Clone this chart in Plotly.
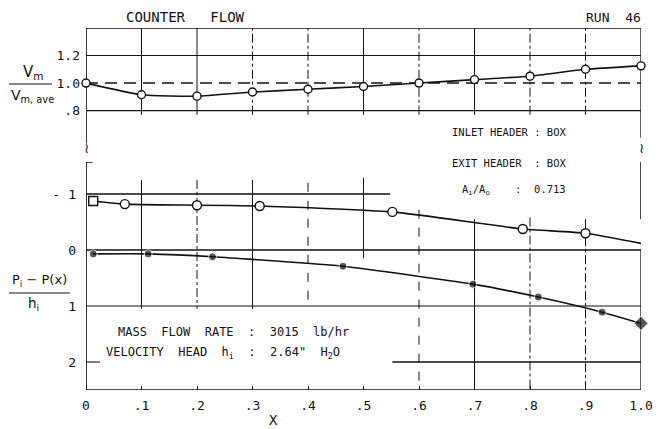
import plotly.graph_objects as go

# ---------------- data ----------------
x_vel = [0.0, 0.1, 0.2, 0.3, 0.4, 0.5, 0.6, 0.7, 0.8, 0.9, 1.0]
v_ratio = [1.00, 0.915, 0.905, 0.935, 0.955, 0.975, 1.00, 1.025, 1.05, 1.10, 1.125]

x_open = [0.013, 0.07, 0.20, 0.313, 0.552, 0.787, 0.90, 1.02]
p_open = [-0.875, -0.82, -0.80, -0.785, -0.68, -0.375, -0.30, -0.08]

x_filled = [0.013, 0.112, 0.228, 0.463, 0.697, 0.815, 0.93, 1.0]
p_filled = [0.07, 0.07, 0.12, 0.29, 0.61, 0.84, 1.11, 1.31]

x_ticks = [0.0, 0.1, 0.2, 0.3, 0.4, 0.5, 0.6, 0.7, 0.8, 0.9, 1.0]
x_ticktext = ["0", ".1", ".2", ".3", ".4", ".5", ".6", ".7", ".8", ".9", "1.0"]
v_ticks = [0.8, 1.0, 1.2]
v_ticktext = [".8", "1.0", "1.2"]
p_ticks = [-1, 0, 1, 2]
p_ticktext = ["- 1", "0", "1", "2"]

# ---------------- geometry helpers (layout only) ----------------
OFF = 8                      # page body margin of the browser
W, H = 666 - OFF, 429 - OFF  # figure size so that it fits the window
L, R, T, B = 86, 641, 28, 390  # plot area in page pixels


def px(xp):
    return (xp - L) / (R - L)


def py(yp):
    return (B - yp) / (B - T)


INK = "#111111"
FONT = "DejaVu Sans Mono"

fig = go.Figure()

fig.add_trace(go.Scatter(
    x=x_vel, y=v_ratio, yaxis="y2", mode="lines+markers",
    line=dict(color=INK, width=1.6, shape="spline", smoothing=0.5),
    marker=dict(symbol="circle", size=8, color="white", line=dict(color=INK, width=1.4)),
    cliponaxis=False, showlegend=False))

fig.add_trace(go.Scatter(
    x=x_open, y=p_open, yaxis="y", mode="lines+markers",
    line=dict(color=INK, width=1.6, shape="spline", smoothing=0.5),
    marker=dict(symbol=["square"] + ["circle"] * (len(x_open) - 1), size=9,
                color="white", line=dict(color=INK, width=1.4)),
    cliponaxis=False, showlegend=False))

fig.add_trace(go.Scatter(
    x=x_filled, y=p_filled, yaxis="y", mode="lines+markers",
    line=dict(color=INK, width=1.6, shape="spline", smoothing=0.5),
    marker=dict(symbol=["circle"] * (len(x_filled) - 1) + ["diamond"],
                size=[8] * (len(x_filled) - 1) + [11], color=INK),
    cliponaxis=False, showlegend=False))

shapes = []


def hline(y, x0, x1, yref, width=1.0, dash="solid"):
    shapes.append(dict(type="line", xref="x", yref=yref, x0=x0, x1=x1, y0=y, y1=y,
                       line=dict(color=INK, width=width, dash=dash), layer="below"))


def vline(x, y0, y1, yref, width=1.0, dash="solid"):
    shapes.append(dict(type="line", xref="x", yref=yref, x0=x, x1=x, y0=y0, y1=y1,
                       line=dict(color=INK, width=width, dash=dash), layer="below"))


# top panel frame / grid
hline(1.4, 0, 1, "y2", 1.7)
hline(1.2, 0, 1, "y2", 1.1)
hline(1.0, 0, 1, "y2", 1.4, "12px,7px")
hline(0.8, 0, 1, "y2", 1.4)
vline(0, 0.56, 1.4, "y2", 1.7)
vline(1, 0.6, 1.4, "y2", 1.3)
top_styles = {0.1: "solid", 0.2: "solid", 0.3: "dashdot", 0.4: "dashdot", 0.5: "solid",
              0.6: "dashdot", 0.7: "solid", 0.8: "dashdot", 0.9: "dashdot"}
for xv, st in top_styles.items():
    vline(xv, 0.77, 1.4, "y2", 1.0, st)

# bottom panel frame / grid
vline(0, -1.571, 2.5, "y", 1.7)
hline(-1.571, -0.012, 0.012, "y", 1.5)
hline(-1, 0, 0.548, "y", 1.3)
hline(0, 0, 1, "y", 1.3)
hline(1, 0, 1, "y", 1.2)
hline(2, 0, 0.025, "y", 1.1)
hline(2, 0.552, 1, "y", 1.3)
hline(2.5, 0, 1, "y", 1.7)
vline(1, 0, 2.5, "y", 1.3)
vline(1, -1.62, -0.55, "y", 1.5)
bottom_grid = [
    (0.1, -1.25, 1.05, "solid"), (0.2, -1.25, 1.05, "dashdot"), (0.3, -1.25, 1.05, "solid"),
    (0.4, -1.2, 1.0, "dash"), (0.5, -1.29, 0.15, "solid"), (0.6, -0.72, 2.5, "dash"),
    (0.7, -0.55, 2.5, "solid"), (0.8, -0.58, 2.5, "dashdot"), (0.9, -0.55, 2.5, "dashdot"),
]
for xv, y0, y1, st in bottom_grid:
    vline(xv, y0, y1, "y", 1.0, st)

# fraction bars for the axis labels
shapes.append(dict(type="line", xref="paper", yref="paper", x0=px(9), x1=px(52), y0=py(84), y1=py(84),
                   line=dict(color=INK, width=1.2)))
shapes.append(dict(type="line", xref="paper", yref="paper", x0=px(9), x1=px(70), y0=py(293), y1=py(293),
                   line=dict(color=INK, width=1.2)))

ann = []


def text(t, xp, yp, size=11, xanchor="center", bg=None, family=FONT):
    d = dict(text=t, xref="paper", yref="paper", x=px(xp), y=py(yp), showarrow=False,
             xanchor=xanchor, yanchor="middle", font=dict(family=family, size=size, color=INK))
    if bg:
        d["bgcolor"] = bg
    ann.append(d)


text("COUNTER   FLOW", 185, 17, 14)
text("RUN  46", 643, 17, 13, xanchor="right")
text("V<sub>m</sub>", 33, 73, 15, family="DejaVu Sans")
text("V<sub>m, ave</sub>", 32, 96, 14, family="DejaVu Sans")
text("P<sub>i</sub> − P(x)", 39, 280, 13, family="DejaVu Sans")
text("h<sub>i</sub>", 33, 304, 13.5, family="DejaVu Sans")
text("INLET HEADER : BOX", 568, 132, 10.5, xanchor="right", bg="white")
text("EXIT HEADER  : BOX", 568, 163, 10.5, xanchor="right", bg="white")
text("A<sub>i</sub>/A<sub>o</sub>    :  0.713", 568, 190, 10.5, xanchor="right", bg="white")
text("MASS  FLOW  RATE  :  3015  lb/hr", 116, 332, 12, xanchor="left", bg="white")
text("VELOCITY  HEAD  h<sub>i</sub>  :  2.64\"  H<sub>2</sub>O", 104, 353, 12, xanchor="left", bg="white")
text("X", 273, 420, 14)
text("≀", 86, 148, 14, family="DejaVu Sans")
text("≀", 641, 148, 14, family="DejaVu Sans")

tickfont = dict(family=FONT, size=13, color=INK)

fig.update_layout(
    width=W, height=H, autosize=False,
    margin=dict(l=L - OFF, r=W - (R - OFF), t=T - OFF, b=H - (B - OFF), pad=0),
    paper_bgcolor="white", plot_bgcolor="white",
    shapes=shapes, annotations=ann, showlegend=False,
    xaxis=dict(range=[0, 1], domain=[0, 1], anchor="y", showgrid=False, zeroline=False,
               showline=False, tickvals=x_ticks, ticktext=x_ticktext, ticks="inside",
               ticklen=4, tickcolor=INK, ticklabelstandoff=6, tickfont=tickfont),
    yaxis=dict(domain=[0, py(162)], range=[2.5, -1.5714], anchor="x", showgrid=False,
               zeroline=False, showline=False, tickvals=p_ticks, ticktext=p_ticktext,
               ticks="", ticklabelstandoff=9, tickfont=tickfont),
    yaxis2=dict(domain=[py(145), 1], range=[0.55, 1.4], anchor="x", showgrid=False,
                zeroline=False, showline=False, tickvals=v_ticks, ticktext=v_ticktext,
                ticks="", ticklabelstandoff=5, tickfont=tickfont),
)

fig.write_html("out.html")
